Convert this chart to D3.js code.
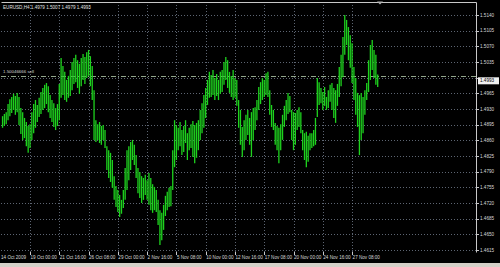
<!DOCTYPE html>
<html><head><meta charset="utf-8">
<script src="https://cdn.jsdelivr.net/npm/d3@7"></script>
<style>html,body{margin:0;padding:0;background:#000;overflow:hidden}</style>
</head><body><svg id="c" width="500" height="267"></svg>
<script>
// ---------- data ----------
const symbolTitle = "EURUSD,H4";
const lastOHLC = [1.4979, 1.5007, 1.4979, 1.4993];
const highs = [
1.4914,1.4919,1.4923,1.4941,1.4952,1.4957,1.4964,1.4959,1.4966,1.4957,
1.4932,1.4923,1.4910,1.4901,1.4892,1.4896,1.4923,1.4941,1.4950,1.4939,
1.4955,1.4968,1.4977,1.4984,1.4988,1.4981,1.4961,1.4950,1.4943,1.4932,
1.4941,1.4986,1.5044,1.5026,1.5013,1.4995,1.5004,1.5017,1.5035,1.5044,
1.5051,1.5039,1.5031,1.5044,1.5053,1.5046,1.5057,1.5062,1.5048,1.5026,
1.4972,1.4905,1.4896,1.4901,1.4892,1.4894,1.4883,1.4847,1.4838,1.4832,
1.4816,1.4780,1.4758,1.4749,1.4738,1.4727,1.4749,1.4798,1.4838,1.4847,
1.4856,1.4861,1.4850,1.4827,1.4798,1.4789,1.4780,1.4776,1.4783,1.4771,
1.4787,1.4776,1.4762,1.4756,1.4749,1.4727,1.4704,1.4698,1.4716,1.4736,
1.4745,1.4754,1.4758,1.4838,1.4905,1.4894,1.4888,1.4901,1.4883,1.4892,
1.4905,1.4876,1.4888,1.4896,1.4903,1.4894,1.4899,1.4905,1.4928,1.4943,
1.4961,1.4977,1.4995,1.5013,1.5006,1.5017,1.4999,1.5008,1.4995,1.5013,
1.5017,1.5035,1.5046,1.5039,1.5013,1.5004,1.5017,1.4999,1.4995,1.4950,
1.4928,1.4890,1.4905,1.4917,1.4928,1.4910,1.4923,1.4932,1.4934,1.4950,
1.4979,1.4990,1.4999,1.4995,1.5010,1.5013,1.4972,1.4939,1.4928,1.4899,
1.4892,1.4888,1.4896,1.4917,1.4937,1.4950,1.4966,1.4959,1.4928,1.4923,
1.4921,1.4928,1.4934,1.4923,1.4883,1.4876,1.4879,1.4870,1.4876,1.4876,
1.4883,1.4910,1.4999,1.4990,1.4977,1.4968,1.4979,1.4957,1.4972,1.4984,
1.4988,1.4977,1.4972,1.4986,1.5024,1.5051,1.5091,1.5140,1.5129,1.5113,
1.5095,1.5077,1.5024,1.4999,1.4966,1.4961,1.4966,1.4957,1.4972,1.4988,
1.5039,1.5073,1.5084,1.5062,1.5051,1.5007];
const lows = [
1.4888,1.4892,1.4896,1.4905,1.4914,1.4921,1.4928,1.4917,1.4923,1.4894,
1.4874,1.4861,1.4865,1.4847,1.4832,1.4843,1.4861,1.4876,1.4888,1.4901,
1.4912,1.4919,1.4928,1.4932,1.4941,1.4923,1.4910,1.4901,1.4890,1.4883,
1.4892,1.4905,1.4955,1.4961,1.4950,1.4946,1.4955,1.4959,1.4972,1.4986,
1.4990,1.4977,1.4964,1.4981,1.4995,1.4986,1.4999,1.5004,1.4981,1.4950,
1.4861,1.4856,1.4861,1.4854,1.4850,1.4861,1.4843,1.4794,1.4776,1.4767,
1.4754,1.4727,1.4711,1.4700,1.4689,1.4696,1.4709,1.4727,1.4749,1.4771,
1.4794,1.4816,1.4805,1.4776,1.4742,1.4731,1.4720,1.4727,1.4738,1.4727,
1.4716,1.4704,1.4698,1.4704,1.4700,1.4671,1.4626,1.4637,1.4660,1.4691,
1.4704,1.4711,1.4713,1.4749,1.4800,1.4816,1.4838,1.4847,1.4827,1.4834,
1.4854,1.4816,1.4838,1.4843,1.4823,1.4809,1.4821,1.4838,1.4861,1.4876,
1.4888,1.4910,1.4939,1.4955,1.4957,1.4961,1.4950,1.4959,1.4950,1.4964,
1.4968,1.4984,1.4995,1.4977,1.4966,1.4957,1.4950,1.4955,1.4937,1.4888,
1.4850,1.4823,1.4838,1.4861,1.4872,1.4850,1.4823,1.4861,1.4883,1.4905,
1.4928,1.4941,1.4950,1.4957,1.4961,1.4957,1.4917,1.4890,1.4883,1.4850,
1.4838,1.4809,1.4838,1.4861,1.4890,1.4905,1.4919,1.4923,1.4861,1.4838,
1.4850,1.4883,1.4890,1.4876,1.4838,1.4816,1.4800,1.4812,1.4838,1.4843,
1.4847,1.4850,1.4912,1.4939,1.4943,1.4928,1.4937,1.4928,1.4932,1.4946,
1.4928,1.4910,1.4899,1.4937,1.4957,1.4981,1.5001,1.5051,1.5073,1.5039,
1.5022,1.4988,1.4950,1.4917,1.4890,1.4827,1.4861,1.4876,1.4917,1.4950,
1.4968,1.4995,1.5017,1.4999,1.4984,1.4979];
const priceTicks = [1.5140,1.5105,1.5070,1.5035,1.5000,1.4965,1.4930,1.4895,1.4860,1.4825,1.4790,1.4755,1.4720,1.4685,1.4650,1.4615];
const firstTimeLabel = "14 Oct 2009";
const timeLabels = ["19 Oct 00:00","21 Oct 16:00","26 Oct 08:00","29 Oct 00:00","2 Nov 16:00","5 Nov 08:00","10 Nov 00:00","12 Nov 16:00","17 Nov 08:00","20 Nov 00:00","24 Nov 16:00","27 Nov 08:00"];
const timeLabelBars = [15,31,47,63,79,95,111,127,143,159,175,191];
const hLineValue = 1.5004;
const hLineText = "1.50046666 sell";

// ---------- layout ----------
const W = 500, H = 267;
const plot = {left: 1, right: 476, top: 2, bottom: 252};
const svg = d3.select("#c");
const font = "'Liberation Sans', Arial, sans-serif";

svg.append("rect").attr("width", W).attr("height", H).attr("fill", "#000");

const x = d3.scaleLinear().domain([0, highs.length - 1]).range([2.55, 2.55 + (highs.length - 1) * 1.83]);
const y = d3.scaleLinear().domain([1.4615, 1.5140]).range([250, 15]);

const gridColor = "#8a96a8";
// horizontal grid
svg.append("g").selectAll("line").data(priceTicks).join("line")
  .attr("x1", plot.left).attr("x2", plot.right)
  .attr("y1", d => Math.round(y(d)) + 0.5).attr("y2", d => Math.round(y(d)) + 0.5)
  .attr("stroke", gridColor).attr("stroke-width", 0.8).attr("stroke-dasharray", "1,2").attr("opacity", 0.85);
// vertical grid
svg.append("g").selectAll("line").data(timeLabelBars).join("line")
  .attr("x1", d => Math.round(x(d)) + 0.5).attr("x2", d => Math.round(x(d)) + 0.5)
  .attr("y1", plot.top).attr("y2", plot.bottom)
  .attr("stroke", gridColor).attr("stroke-width", 0.8).attr("stroke-dasharray", "1,2").attr("opacity", 0.85);

// horizontal line object (dash-dot)
svg.append("line")
  .attr("x1", plot.left).attr("x2", plot.right)
  .attr("y1", Math.round(y(hLineValue)) + 0.5).attr("y2", Math.round(y(hLineValue)) + 0.5)
  .attr("stroke", "#b8d0b0").attr("stroke-width", 0.8).attr("stroke-dasharray", "5,2,1,2");
svg.append("text").attr("x", 3).attr("y", y(hLineValue) - 2.5)
  .attr("fill", "#d8d8d8").attr("font-family", font).attr("font-size", 4.4).text(hLineText);

// bars (high-low)
svg.append("g")
  .selectAll("line").data(highs.map((h, i) => ({h, l: lows[i], i}))).join("line")
  .attr("x1", d => x(d.i)).attr("x2", d => x(d.i))
  .attr("y1", d => y(d.h)).attr("y2", d => y(d.l))
  .attr("stroke", "#1ed21e").attr("stroke-width", 1.3);

// frame
svg.append("path")
  .attr("d", `M${plot.left + 0.5},${plot.top + 0.5}H${plot.right + 0.5}V${plot.bottom + 0.5}`)
  .attr("fill", "none").attr("stroke", "#c8c8c8").attr("stroke-width", 1);

// price axis (label hidden where the bid box covers it)
const cp = lastOHLC[3];
const shown = priceTicks.filter(d => Math.abs(y(d) - y(cp)) > 6);
const pa = svg.append("g");
pa.selectAll("line").data(priceTicks).join("line")
  .attr("x1", plot.right).attr("x2", plot.right + 3)
  .attr("y1", d => Math.round(y(d)) + 0.5).attr("y2", d => Math.round(y(d)) + 0.5)
  .attr("stroke", "#c8c8c8");
pa.selectAll("text").data(shown).join("text")
  .attr("x", plot.right + 4).attr("y", d => y(d) + 1.6)
  .attr("fill", "#d8d8d8").attr("font-family", font).attr("font-size", 4.6)
  .text(d => d.toFixed(4));

// current price box
svg.append("rect").attr("x", plot.right + 2).attr("y", y(cp) - 3.5).attr("width", 21).attr("height", 7)
  .attr("fill", "#f0f0f0");
svg.append("text").attr("x", plot.right + 4).attr("y", y(cp) + 1.6)
  .attr("fill", "#000").attr("font-family", font).attr("font-size", 4.6).text(cp.toFixed(4));

// time axis
const ta = svg.append("g");
ta.selectAll("line").data(timeLabelBars).join("line")
  .attr("x1", d => Math.round(x(d)) + 0.5).attr("x2", d => Math.round(x(d)) + 0.5)
  .attr("y1", plot.bottom).attr("y2", plot.bottom + 3)
  .attr("stroke", "#c8c8c8");
ta.selectAll("text").data(timeLabels).join("text")
  .attr("x", (d, i) => x(timeLabelBars[i]) + 0.5).attr("y", 259)
  .attr("fill", "#d8d8d8").attr("font-family", font).attr("font-size", 4.6).text(d => d);
ta.append("text").attr("x", 1).attr("y", 259)
  .attr("fill", "#d8d8d8").attr("font-family", font).attr("font-size", 4.6).text(firstTimeLabel);

// header
svg.append("text").attr("x", 3).attr("y", 9)
  .attr("fill", "#e0e0e0").attr("font-family", font).attr("font-size", 4.6)
  .text(symbolTitle + "  " + lastOHLC.map(v => v.toFixed(4)).join(" "));

// chart shift marker
svg.append("path").attr("d", "M377,1.5H383L380,4.5Z").attr("fill", "#b0b0b0");

// bottom window strip
svg.append("rect").attr("x", 0).attr("y", 263).attr("width", W).attr("height", 4).attr("fill", "#d4d0c8");
</script></body></html>
